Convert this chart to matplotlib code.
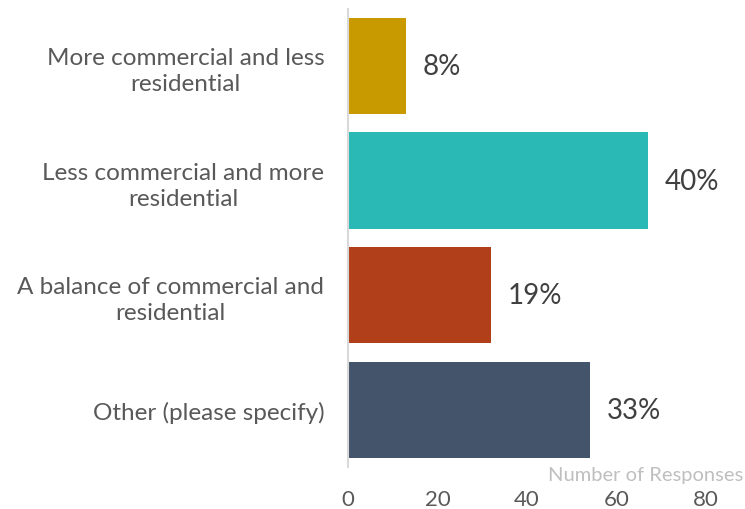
import matplotlib

matplotlib.use("Agg")
import matplotlib.pyplot as plt

categories = [
    "More commercial and less\nresidential",
    "Less commercial and more\nresidential",
    "A balance of commercial and\nresidential",
    "Other (please specify)",
]
responses = [13, 67, 32, 54]
pct_labels = ["8%", "40%", "19%", "33%"]
colors = ["#C99A00", "#2AB9B5", "#B03F1A", "#44546A"]
xticks = [0, 20, 40, 60, 80]

plt.rcParams["font.family"] = ["Lato", "DejaVu Sans"]

fig = plt.figure(figsize=(7.45, 5.1), dpi=100)
ax = fig.add_axes([0.467, 0.0824, 0.481, 0.8986])

pos = list(range(len(categories)))
ax.barh(pos, responses, height=0.84, color=colors)
ax.set_ylim(len(categories) - 0.5, -0.5)
ax.set_xlim(0, 80)

for y, v, lab in zip(pos, responses, pct_labels):
    ax.annotate(lab, (v, y), xytext=(12, 0), textcoords="offset points",
                ha="left", va="center", fontsize=20, color="#404040")

ax.set_yticks(pos)
ax.set_yticklabels(categories, fontsize=17.5, color="#595959")
for t in ax.get_yticklabels():
    t.set_multialignment("center")
    t.set_linespacing(1.3)
ax.tick_params(axis="y", length=0, pad=17)

ax.set_xticks(xticks)
ax.set_xticklabels([str(t) for t in xticks], fontsize=16, color="#595959")
ax.tick_params(axis="x", length=0, pad=16)

for side in ["top", "right", "bottom"]:
    ax.spines[side].set_visible(False)
ax.spines["left"].set_color("#d9d9d9")
ax.spines["left"].set_linewidth(1.5)

fig.text(0.997, 0.068, "Number of Responses", ha="right", va="center",
         fontsize=14.5, color="#bfbfbf")

fig.savefig("out.png", dpi=100)
